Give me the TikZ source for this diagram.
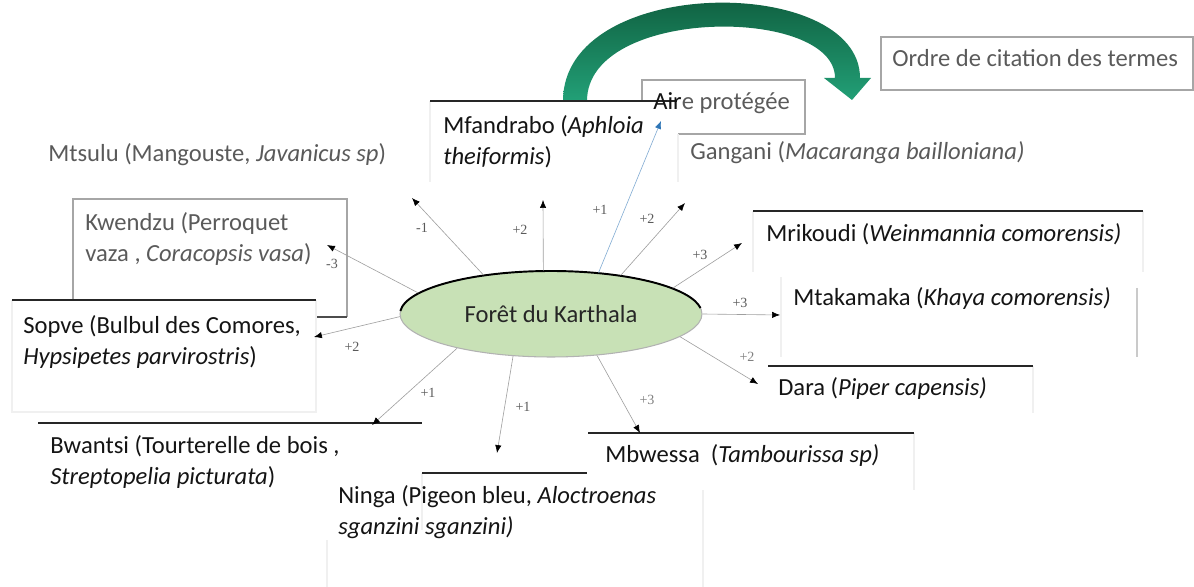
\documentclass[tikz,border=0pt]{standalone}
\usepackage{fontspec}
\setmainfont{Carlito}
\newfontfamily\lblfont{Liberation Serif}
\usetikzlibrary{arrows.meta,shapes.geometric}
\definecolor{txtgray}{HTML}{5A5A5A}
\definecolor{txtblack}{HTML}{141414}
\definecolor{ellfill}{HTML}{C8E1B6}
\definecolor{garrowtop}{HTML}{0C5234}
\definecolor{garrowbot}{HTML}{22A077}
\definecolor{bluearr}{HTML}{2E75B6}
\definecolor{faint}{HTML}{F0F0F0}
\definecolor{boxgray}{HTML}{A6A6A6}
\tikzset{
  txt/.style={anchor=base west, inner sep=0pt, align=left, font=\fontsize{14}{18.2}\selectfont},
  graytxt/.style={txt, text=txtgray},
  blacktxt/.style={txt, text=txtblack},
  lbl/.style={inner sep=0pt, text=txtgray, font=\lblfont\fontsize{8}{9}\selectfont},
  conn/.style={draw=gray!75, line width=0.35pt, -{Latex[length=4.5pt,width=3.6pt,color=black]}},
  topline/.style={draw=black!85, line width=0.8pt},
  faintline/.style={draw=faint, line width=0.6pt},
}
\begin{document}
\begin{tikzpicture}[x=0.02cm,y=-0.02cm]
\useasboundingbox (0,0) rectangle (1194,587);

% green curved arrow
\shade[top color=garrowtop, bottom color=garrowbot]
  (563,101) .. controls (563,-26) and (860,-26) .. (860,78) -- (871,78) -- (852,100) -- (824,78) -- (835,78)
  .. controls (835,6) and (587,6) .. (587,101) -- cycle;

% Ordre box
\draw[boxgray, line width=0.6pt] (881,37) rectangle (1193,90);
\node[graytxt] (ordre) at (892,67) {Ordre de citation des termes};

% Aire protegee box
\draw[boxgray, line width=0.6pt] (642,80) rectangle (805,134);

% Mfandrabo box
\fill[white] (430,101) rectangle (678,182);
\draw[faintline] (430,101) -- (430,182);
\draw[faintline] (678,134) -- (678,182);
\draw[topline] (430,101) -- (677,101);
\node[blacktxt] (mfandrabo) at (443,165) {Mfandrabo (\textit{Aphloia}\\\textit{theiformis})};
\node[graytxt] (aire) at (653,110) {\textcolor{txtblack}{Air}e protégée};

% Gangani and Mtsulu
\node[graytxt] (gangani) at (690,160) {Gangani (\textit{Macaranga bailloniana)}};
\node[graytxt] (mtsulu) at (48,162) {Mtsulu (Mangouste, \textit{Javanicus sp})};

% Kwendzu box
\draw[boxgray, line width=0.6pt] (73,300) -- (73,199) -- (347,199) -- (347,317);
\draw[black!70, line width=0.7pt] (316,317) -- (347,317);
\node[graytxt] (kwendzu) at (85,262) {Kwendzu (Perroquet\\vaza , \textit{Coracopsis vasa})};

% Sopve box
\fill[white] (12,300) rectangle (316,412);
\draw[faintline] (12,300) -- (12,412) -- (316,412) -- (316,300);
\draw[topline] (12,300) -- (316,300);
\node[blacktxt] (sopve) at (23,365) {Sopve (Bulbul des Comores,\\\textit{Hypsipetes parvirostris})};

% Mrikoudi box
\draw[faintline] (753,211) -- (753,272);
\draw[faintline] (1143,211) -- (1143,272);
\draw[topline] (753,211) -- (1143,211);
\node[blacktxt] (mrikoudi) at (766,242) {Mrikoudi (\textit{Weinmannia comorensis)}};

% Mtakamaka box
\draw[faintline] (781,277) -- (781,357);
\draw[boxgray!60, line width=0.6pt] (1137,288) -- (1137,357);
\node[blacktxt] (mtakamaka) at (793,306) {Mtakamaka (\textit{Khaya comorensis)}};

% Dara box
\draw[faintline] (1033,366) -- (1033,413);
\draw[topline] (768,366) -- (1033,366);
\node[blacktxt] (dara) at (778,396) {Dara (\textit{Piper capensis)}};

% Mbwessa box
\draw[faintline] (914,433) -- (914,490);
\draw[topline] (588,433) -- (914,433);
\node[blacktxt] (mbwessa) at (605,463) {Mbwessa~~(\textit{Tambourissa sp)}};

% Bwantsi box
\draw[faintline] (422,473) -- (422,530);
\draw[topline] (38,423) -- (422,423);
\node[blacktxt] (bwantsi) at (50,485) {Bwantsi (Tourterelle de bois ,\\\textit{Streptopelia picturata})};

% Ninga box
\draw[faintline] (327,540) -- (327,587);
\draw[faintline] (703,490) -- (703,587);
\draw[topline] (422,473) -- (587,473);
\node[blacktxt] (ninga) at (338,535) {Ninga (Pigeon bleu, \textit{Aloctroenas}\\\textit{sganzini sganzini)}};

% central ellipse
\node[ellipse, fill=ellfill, draw=gray!60, line width=0.6pt, minimum width=6.04cm, minimum height=1.72cm, inner sep=0pt,
      text=black!85, font=\fontsize{14}{17}\selectfont] (foret) at (551,314) {Forêt du Karthala};
\draw[black, line width=1.1pt] (551,314) ++(-176:151 and 43) arc[start angle=-176, end angle=-8, x radius=151, y radius=43];

% arrow tips
\coordinate (t1) at (412,198);
\coordinate (t2) at (543,200);
\coordinate (t3) at (661,121);
\coordinate (t4) at (685,203);
\coordinate (t5) at (742,243);
\coordinate (t6) at (780,315);
\coordinate (t7) at (758,384);
\coordinate (t8) at (640,433);
\coordinate (t9) at (497,453);
\coordinate (t10) at (372,425);
\coordinate (t11) at (314,337);
\coordinate (t12) at (327,245);

% connectors
\draw[conn] (foret.150) -- (t1);
\draw[conn] (foret.100) -- (t2);
\draw[conn, draw=bluearr!60, -{Latex[length=4.5pt,width=3.6pt,color=bluearr]}] (foret.41) -- (t3);
\draw[conn] (foret.29) -- (t4);
\draw[conn] (foret.12) -- (t5);
\draw[conn] (foret.east) -- (t6);
\draw[conn] (foret.-10) -- (t7);
\draw[conn] (foret.-42) -- (t8);
\draw[conn] (foret.228) -- (t9);
\draw[conn] (foret.200) -- (t10);
\draw[conn] (foret.181) -- (t11);
\draw[conn] (foret.171) -- (t12);

% labels
\node[lbl] (l1) at (422,228) {-1};
\node[lbl] (l2) at (520,230) {+2};
\node[lbl] (l3) at (600,210) {+1};
\node[lbl] (l4) at (647,219) {+2};
\node[lbl] (l5) at (700,255) {+3};
\node[lbl] (l6) at (740,303) {+3};
\node[lbl, text=gray] (l7) at (747,357) {+2};
\node[lbl, text=gray] (l8) at (647,400) {+3};
\node[lbl] (l9) at (523,407) {+1};
\node[lbl] (l10) at (428,393) {+1};
\node[lbl] (l11) at (352,347) {+2};
\node[lbl] (l12) at (332,264) {-3};
\end{tikzpicture}
\end{document}
